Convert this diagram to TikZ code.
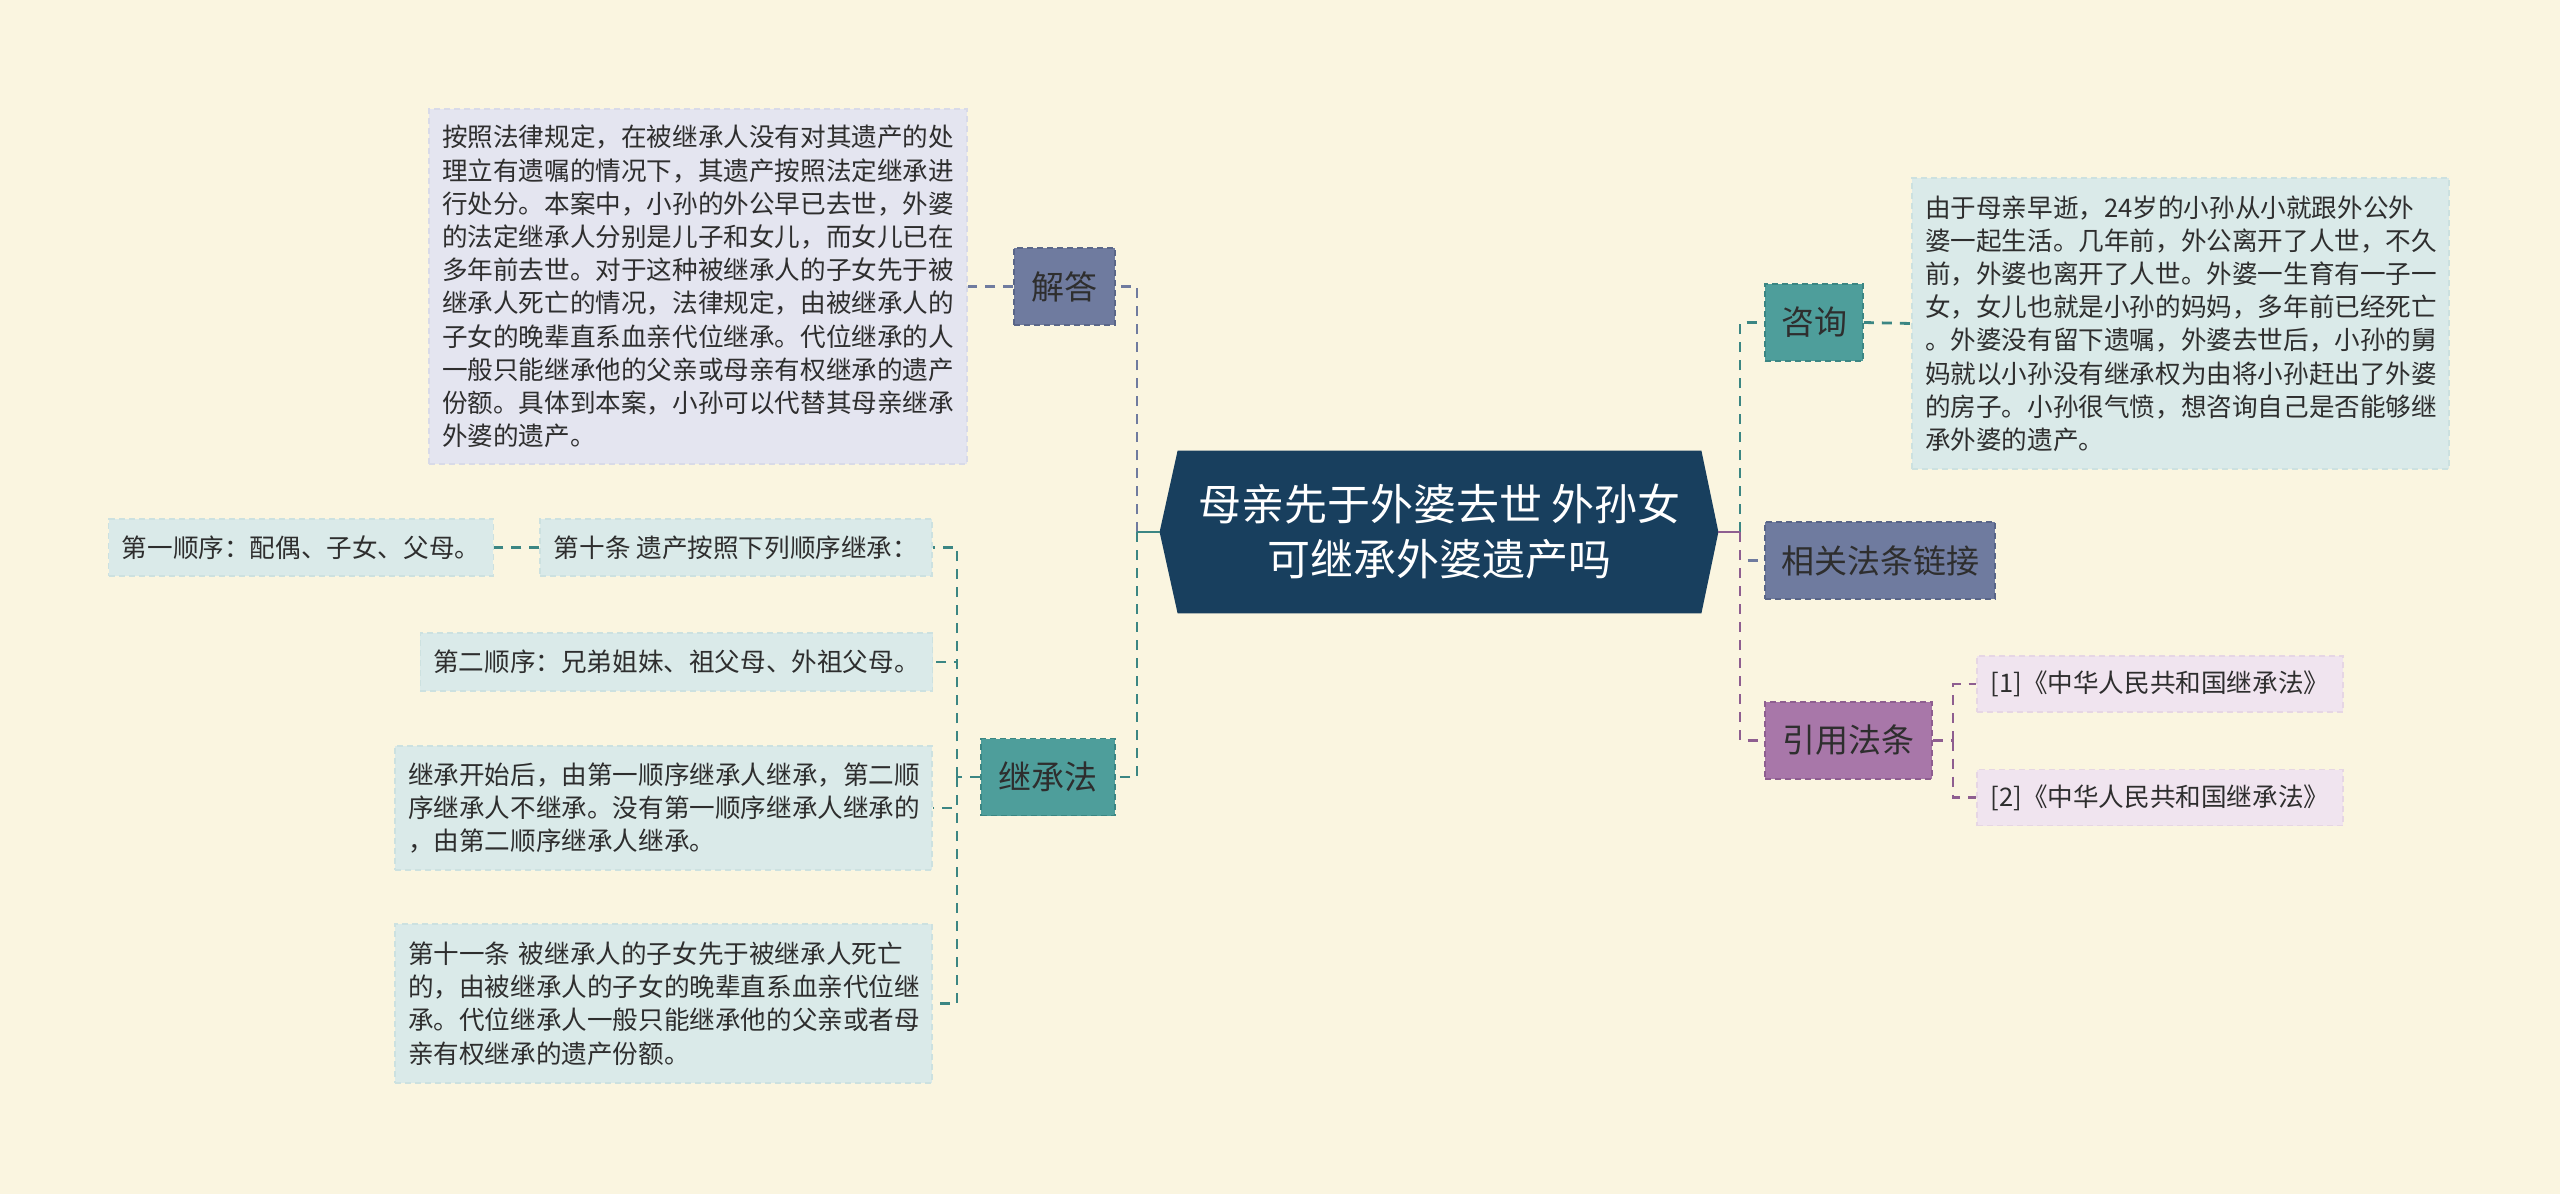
\documentclass[tikz,border=0pt]{standalone}
\usepackage{fontspec}
\setmainfont{Noto Sans CJK SC}
\usetikzlibrary{calc}
\definecolor{bgc}{HTML}{FAF5E0}
\definecolor{navy}{HTML}{183F5E}
\definecolor{slate}{HTML}{6F7B9F}
\definecolor{slateD}{HTML}{5A6688}
\definecolor{tealc}{HTML}{4E9E9B}
\definecolor{tealD}{HTML}{3B8683}
\definecolor{purp}{HTML}{A877A9}
\definecolor{purpD}{HTML}{8E5E90}
\definecolor{lavbox}{HTML}{E4E5F0}
\definecolor{lavboxD}{HTML}{D8DAE8}
\definecolor{tealbox}{HTML}{DAEAE9}
\definecolor{tealboxD}{HTML}{CCE1E0}
\definecolor{pinkbox}{HTML}{F0E4EF}
\definecolor{pinkboxD}{HTML}{E6D6E4}
\definecolor{txt}{HTML}{2E2E2E}
\pgfdeclarelayer{bglayer}
\pgfsetlayers{bglayer,main}
\begin{document}
\begin{tikzpicture}[x=0.5pt,y=-0.5pt,
  tfont/.style={font=\fontsize{12.8pt}{16.6pt}\selectfont},
  tbox/.style={tfont, align=left, inner xsep=6.5pt, inner ysep=0pt, text=txt, dashed, line width=0.6pt, dash pattern=on 3pt off 2pt},
  lavb/.style={tbox, fill=lavbox, draw=lavboxD},
  tealb/.style={tbox, fill=tealbox, draw=tealboxD},
  pinkb/.style={tbox, fill=pinkbox, draw=pinkboxD},
  branch/.style={font=\fontsize{16.5pt}{20pt}\selectfont, text=txt, minimum height=38.5pt, inner sep=0pt, dashed, line width=0.8pt, dash pattern=on 3pt off 2pt},
  conn/.style={line width=1.4pt, dash pattern=on 5pt off 4pt}
]
\begin{pgfonlayer}{bglayer}
\fill[bgc] (0,0) rectangle (2560,1194);
\end{pgfonlayer}
\useasboundingbox (0,0) rectangle (2560,1194);

% central topic
\node[font=\fontsize{21.5pt}{27.5pt}\selectfont, text=white, align=center, minimum width=261.5pt, minimum height=81pt, inner sep=0pt] (center) at (1439.5,532) {母亲先于外婆去世 外孙女\\可继承外婆遗产吗};
\coordinate (ltip) at ($(center.west)+(-18,0)$);
\coordinate (rtip) at ($(center.east)+(17,0)$);
\begin{pgfonlayer}{bglayer}
\fill[navy] (center.north west) -- (center.north east) -- (rtip) -- (center.south east) -- (center.south west) -- (ltip) -- cycle;
\end{pgfonlayer}

% left side
\node[branch, fill=slate, draw=slateD, minimum width=50.5pt] (jieda) at (1064.5,286.5) {解答};
\node[lavb, text width=256pt, minimum height=177.5pt] (jdbox) at (698,286.5) {按照法律规定，在被继承人没有对其遗产的处\\理立有遗嘱的情况下，其遗产按照法定继承进\\行处分。本案中，小孙的外公早已去世，外婆\\的法定继承人分别是儿子和女儿，而女儿已在\\多年前去世。对于这种被继承人的子女先于被\\继承人死亡的情况，法律规定，由被继承人的\\子女的晚辈直系血亲代位继承。代位继承的人\\一般只能继承他的父亲或母亲有权继承的遗产\\份额。具体到本案，小孙可以代替其母亲继承\\外婆的遗产。};

\node[branch, fill=tealc, draw=tealD, minimum width=67pt] (jcf) at (1048,777) {继承法};
\node[tealb, minimum width=196pt, minimum height=28.5pt] (d10) at (736,547.5) {第十条~遗产按照下列顺序继承：};
\node[tealb, minimum width=192pt, minimum height=28.5pt] (d1) at (301,547.5) {第一顺序：配偶、子女、父母。};
\node[tealb, minimum width=255.5pt, minimum height=29pt] (d2) at (676.5,662) {第二顺序：兄弟姐妹、祖父母、外祖父母。};
\node[tealb, text width=255.5pt, minimum height=62pt] (ks) at (663.5,808) {继承开始后，由第一顺序继承人继承，第二顺\\序继承人不继承。没有第一顺序继承人继承的\\，由第二顺序继承人继承。};
\node[tealb, text width=255.5pt, minimum height=79.5pt] (d11) at (663.5,1003.5) {第十一条~被继承人的子女先于被继承人死亡\\的，由被继承人的子女的晚辈直系血亲代位继\\承。代位继承人一般只能继承他的父亲或者母\\亲有权继承的遗产份额。};

% right side
\node[branch, fill=tealc, draw=tealD, minimum width=49pt] (zx) at (1814,322.5) {咨询};
\node[tealb, text width=255.5pt, minimum height=145.5pt] (zxbox) at (2180.5,323.5) {由于母亲早逝，24岁的小孙从小就跟外公外\\婆一起生活。几年前，外公离开了人世，不久\\前，外婆也离开了人世。外婆一生育有一子一\\女，女儿也就是小孙的妈妈，多年前已经死亡\\。外婆没有留下遗嘱，外婆去世后，小孙的舅\\妈就以小孙没有继承权为由将小孙赶出了外婆\\的房子。小孙很气愤，想咨询自己是否能够继\\承外婆的遗产。};
\node[branch, fill=slate, draw=slateD, minimum width=115pt] (xg) at (1880,560.5) {相关法条链接};
\node[branch, fill=purp, draw=purpD, minimum width=83.5pt] (yy) at (1848.5,740.5) {引用法条};
\node[pinkb, minimum width=183pt, minimum height=28pt] (r1) at (2160,684) {[1]《中华人民共和国继承法》};
\node[pinkb, minimum width=183pt, minimum height=28pt] (r2) at (2160,797.5) {[2]《中华人民共和国继承法》};

% connectors
\coordinate (ls) at (1137,532);
\coordinate (rs) at (1740,532);
\coordinate (js) at (957,777);
\coordinate (ys) at (1953,740.5);
\begin{pgfonlayer}{bglayer}
\draw[slate, conn] (ls) |- (jieda.east);
\draw[tealD, conn] (ls) |- (jcf.east);
\draw[tealD, line width=1.4pt] (ltip) -- (ls);
\draw[slate, conn] (jieda.west) -- (jdbox.east);
\draw[tealD, conn] (jcf.west) -- (js);
\draw[tealD, conn] (js) |- (d10.east);
\draw[tealD, conn] (js) |- (d2.east);
\draw[tealD, conn] (js) |- (ks.east);
\draw[tealD, conn] (js) |- (d11.east);
\draw[tealD, conn] (d10.west) -- (d1.east);
\draw[tealD, conn] (rs) |- (zx.west);
\draw[slate, conn] (rs) |- (xg.west);
\draw[purpD, conn] (rs) |- (yy.west);
\draw[purpD, line width=1.4pt] (rtip) -- (rs);
\draw[tealD, conn] (zx.east) -- (zxbox.west);
\draw[purpD, conn] (yy.east) -- (ys);
\draw[purpD, conn] (ys) |- (r1.west);
\draw[purpD, conn] (ys) |- (r2.west);
\end{pgfonlayer}
\end{tikzpicture}
\end{document}
